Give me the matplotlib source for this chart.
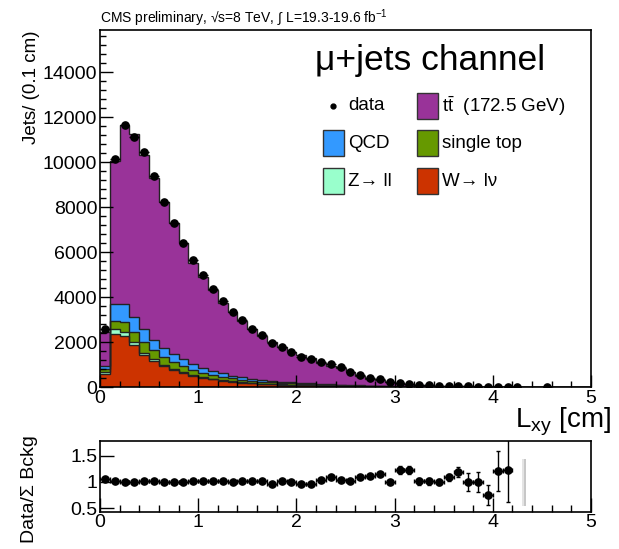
import numpy as np
import matplotlib
matplotlib.use('Agg')
import matplotlib.pyplot as plt
from matplotlib.patches import Rectangle
from matplotlib.ticker import MultipleLocator

plt.rcParams['font.family'] = ['Liberation Sans', 'DejaVu Sans']
plt.rcParams['mathtext.fontset'] = 'custom'
plt.rcParams['mathtext.rm'] = 'Liberation Sans'
plt.rcParams['mathtext.it'] = 'Liberation Sans:italic'

# bins of 0.1 cm from 0 to 5
edges = np.linspace(0, 5, 51)
centers = 0.5 * (edges[:-1] + edges[1:])

data = [2560, 10120, 11640, 11130, 10430, 9380, 8240, 7280, 6390, 5640,
        4980, 4340, 3820, 3320, 2980, 2590, 2310, 1940, 1790, 1540,
        1350, 1230, 1130, 1010, 870, 680, 530, 415, 340, 240,
        190, 150, 105, 75, 60, 44, 30, 25, 20, 15,
        12, 10, 8, 0, 0, 8, 0, 0, 0, 0]

w_lnu = [600, 2360, 2270, 1850, 1420, 1170, 930, 760, 640, 500,
         415, 340, 280, 237, 193, 163, 140, 120, 105, 92,
         80, 70, 60, 52, 45, 38, 32, 27, 22, 18,
         15, 12, 10, 8, 6, 5, 4, 3, 3, 2,
         2, 1, 0, 0, 0, 0, 0, 0, 0, 0]
z_ll = [60, 210, 190, 130, 100, 75, 60, 60, 45, 30,
        29, 29, 30, 19, 17, 15, 12, 10, 9, 8,
        7, 6, 5, 4, 4, 3, 3, 2, 2, 2,
        1, 1, 1, 1, 0, 0, 0, 0, 0, 0,
        0, 0, 0, 0, 0, 0, 0, 0, 0, 0]
single_top = [120, 385, 445, 475, 460, 400, 325, 280, 252, 223,
              193, 163, 148, 129, 116, 103, 90, 80, 70, 60,
              52, 45, 40, 35, 30, 25, 22, 18, 15, 12,
              10, 8, 6, 5, 4, 3, 3, 2, 2, 1,
              1, 1, 0, 0, 0, 0, 0, 0, 0, 0]
qcd = [150, 740, 785, 665, 580, 445, 430, 370, 297, 251,
       222, 178, 148, 119, 104, 89, 75, 65, 55, 48,
       42, 36, 30, 26, 22, 18, 15, 12, 10, 8,
       6, 5, 4, 3, 3, 2, 2, 1, 1, 1,
       1, 0, 0, 0, 0, 0, 0, 0, 0, 0]
ttbar = [1510, 6330, 7950, 8110, 7770, 7200, 6490, 5810, 5150, 4520,
         4020, 3590, 3140, 2820, 2490, 2195, 1950, 1725, 1520, 1350,
         1220, 1125, 950, 810, 740, 585, 415, 310, 250, 200,
         125, 95, 82, 56, 47, 30, 16, 19, 14, 16,
         6, 6, 0, 0, 0, 0, 0, 0, 0, 0]

# ratio panel (bins 0..41)
ratio = [1.05, 1.01, 1.00, 0.99, 1.01, 1.01, 1.00, 1.00, 1.00, 1.02,
         1.02, 1.01, 1.02, 1.00, 1.02, 1.01, 1.02, 0.97, 1.02, 0.99,
         0.96, 0.96, 1.04, 1.09, 1.04, 1.02, 1.10, 1.12, 1.15, 0.99,
         1.23, 1.23, 1.01, 1.01, 1.00, 1.09, 1.19, 1.00, 1.00, 0.75,
         1.21, 1.23]
ratio_err = [0.01, 0.01, 0.01, 0.01, 0.01, 0.01, 0.01, 0.01, 0.01, 0.01,
             0.01, 0.01, 0.01, 0.01, 0.01, 0.01, 0.015, 0.015, 0.015, 0.015,
             0.02, 0.02, 0.02, 0.02, 0.025, 0.025, 0.03, 0.03, 0.035, 0.035,
             0.08, 0.08, 0.06, 0.06, 0.06, 0.07, 0.1, 0.17, 0.19, 0.2,
             0.38, 0.62]
band_x = [4.30, 4.34]
band_lo = 0.53
band_hi = 1.44

stack = [('W', w_lnu, '#cc3300'),
         ('Z', z_ll, '#99ffcc'),
         ('st', single_top, '#669900'),
         ('QCD', qcd, '#3399ff'),
         ('tt', ttbar, '#993399')]

W, H = 619, 549
fig = plt.figure(figsize=(W / 100, H / 100), dpi=100)


def fx(x):
    return x / W


def fy(y):
    return 1 - y / H


ax = fig.add_axes([fx(100), fy(387), fx(491), 357 / H])
rax = fig.add_axes([fx(100), fy(511.7), fx(491), 71 / H])

# stacked histograms, draw the biggest sum first
cum = np.cumsum([np.array(s[1], dtype=float) for s in stack], axis=0)
for i in range(len(stack) - 1, -1, -1):
    ax.stairs(cum[i], edges, baseline=0, fill=True, facecolor=stack[i][2],
              edgecolor='none')
for i in range(len(stack) - 1, -1, -1):
    ax.stairs(cum[i], edges, baseline=None, color='#222222', lw=1.0)

d = np.array(data, dtype=float)
m = d > 0
ax.errorbar(centers[m], d[m], xerr=0.05, fmt='o', color='black', ms=5.2,
            elinewidth=1, capsize=0)

ax.set_xlim(0, 5)
ax.set_ylim(0, 15870)
ax.xaxis.set_major_locator(MultipleLocator(1))
ax.xaxis.set_minor_locator(MultipleLocator(0.2))
ax.yaxis.set_major_locator(MultipleLocator(2000))
ax.yaxis.set_minor_locator(MultipleLocator(400))
ax.tick_params(which='both', direction='in', labelsize=14, width=1)
ax.tick_params(which='major', length=9)
ax.tick_params(which='minor', length=4.5)
ax.tick_params(axis='y', pad=2)
ax.tick_params(axis='x', pad=2)

# ratio panel
n = len(ratio)
rax.errorbar(centers[:n], ratio, xerr=0.05, yerr=ratio_err, fmt='o',
             color='black', ms=5.2, elinewidth=1, capsize=1.5)
rax.fill_between(band_x, band_lo, band_hi, facecolor='#e4e4e4',
                 edgecolor='#bbbbbb', hatch='|||', lw=0)
rax.set_xlim(0, 5)
rax.set_ylim(0.43, 1.79)
rax.xaxis.set_major_locator(MultipleLocator(1))
rax.xaxis.set_minor_locator(MultipleLocator(0.2))
rax.set_yticks([0.5, 1, 1.5])
rax.set_yticklabels(['0.5', '1', '1.5'])
rax.tick_params(which='both', direction='in', labelsize=14, width=1)
rax.tick_params(which='major', length=10)
rax.tick_params(which='minor', length=5)
rax.tick_params(axis='y', pad=2)
rax.tick_params(axis='x', pad=2)

for a in (ax, rax):
    for s in a.spines.values():
        s.set_linewidth(1.2)

# texts
fig.text(fx(100), fy(23), 'CMS preliminary, \u221as=8 TeV, \u222b L=19.3-19.6 fb$^{-1}$',
         fontsize=10, ha='left', va='baseline')
fig.text(fx(32), fy(30), 'Jets/ (0.1 cm)', rotation=90, fontsize=13.5,
         ha='center', va='top')
fig.text(fx(30), fy(489), 'Data/\u03a3 Bckg', rotation=90, fontsize=14,
         ha='center', va='center')
fig.text(fx(611), fy(427), 'L$_{\\mathrm{xy}}$ [cm]', fontsize=20,
         ha='right', va='baseline')
fig.text(fx(315), fy(70), '\u03bc+jets channel', fontsize=25.5,
         ha='left', va='baseline')

# legend
ax_leg = fig.add_axes([0, 0, 1, 1], facecolor='none')
ax_leg.set_xlim(0, W)
ax_leg.set_ylim(H, 0)
ax_leg.axis('off')
rows = [106, 143, 181]
entries = [(0, 0, 'data', None),
           (1, 0, '$\\mathrm{t\\bar{t}}$  (172.5 GeV)', '#993399'),
           (0, 1, 'QCD', '#3399ff'),
           (1, 1, 'single top', '#669900'),
           (0, 2, 'Z\u2192 ll', '#99ffcc'),
           (1, 2, 'W\u2192 l\u03bd', '#cc3300')]
cols = [323, 417]
for c, r, label, col in entries:
    x0 = cols[c]
    yc = rows[r]
    if col is None:
        ax_leg.plot([333], [yc], 'o', color='black', ms=3.5)
    else:
        ax_leg.add_patch(Rectangle((x0, yc - 13), 21, 26, facecolor=col,
                                   edgecolor='#333333', lw=1))
    ax_leg.text(x0 + 25, yc, label, fontsize=13.5, ha='left', va='center')

fig.savefig('out.png', dpi=100)
